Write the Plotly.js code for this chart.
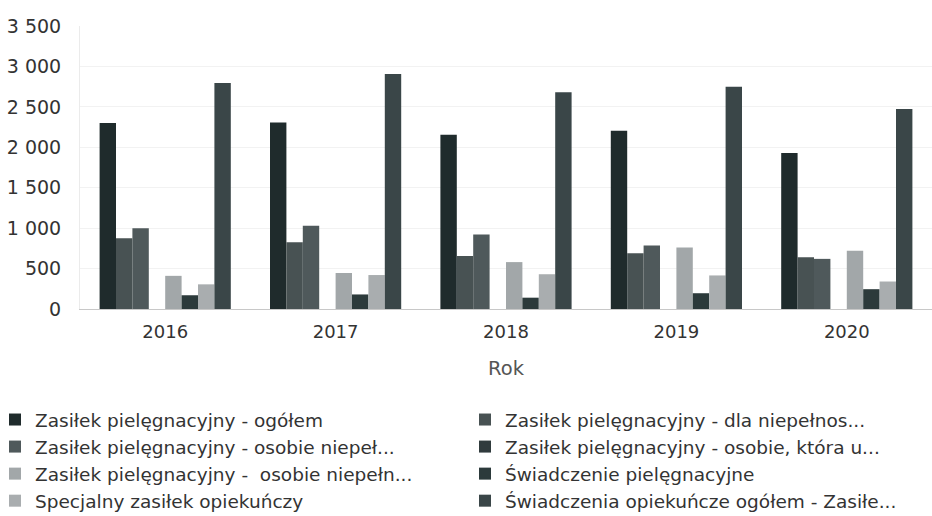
<!DOCTYPE html>
<html>
<head>
<meta charset="utf-8">
<script src="https://cdn.plot.ly/plotly-3.0.1.min.js"></script>
<style>
  html, body { margin: 0; padding: 0; background: #ffffff; }
  #chart { width: 932px; height: 516px; }
</style>
</head>
<body>
<div id="chart"></div>
<script>
// Years on the category axis
const years = ['2016', '2017', '2018', '2019', '2020'];

// Series names, in drawing order
const seriesNames = [
  'Zasiłek pielęgnacyjny - ogółem',
  'Zasiłek pielęgnacyjny - dla niepełnos...',
  'Zasiłek pielęgnacyjny - osobie niepeł...',
  'Zasiłek pielęgnacyjny - osobie, która u...',
  'Zasiłek pielęgnacyjny - \u00a0osobie niepełn...',
  'Świadczenie pielęgnacyjne',
  'Specjalny zasiłek opiekuńczy',
  'Świadczenia opiekuńcze ogółem - Zasiłe...'
];

// Values per series, one per year
const zasilekOgolem        = [2300, 2305, 2155, 2205, 1930];
const dlaNiepelnosprawnego = [ 875,  825,  655,  690,  640];
const osobieNiepelnospr    = [1000, 1030,  920,  785,  620];
const osobieKtora          = [null, null, null, null, null];
const osobieNiepelnoPow75  = [ 410,  445,  580,  760,  720];
const swiadczeniePiel      = [ 170,  180,  140,  195,  245];
const specjalnyZasilek     = [ 305,  420,  430,  415,  340];
const swiadczeniaOgolem    = [2795, 2905, 2680, 2750, 2475];

const seriesValues = [
  zasilekOgolem, dlaNiepelnosprawnego, osobieNiepelnospr, osobieKtora,
  osobieNiepelnoPow75, swiadczeniePiel, specjalnyZasilek, swiadczeniaOgolem
];

// Grey-teal palette of the bars
const seriesColors = [
  '#1f2b2c', '#485253', '#4f595b', '#303b3d',
  '#a2a7a9', '#2c3a3b', '#a9adaf', '#3a4648'
];

// Legend columns: even-indexed series on the left, odd-indexed on the right
const traces = seriesNames.map((name, i) => ({
  type: 'bar',
  name: name,
  x: years,
  y: seriesValues[i],
  legend: i % 2 === 0 ? 'legend' : 'legend2',
  marker: { color: seriesColors[i], line: { width: 0 } },
  hoverinfo: 'x+y+name'
}));

const textFont = '"DejaVu Sans", "Open Sans", sans-serif';
const plotLeft = 80;
const plotWidth = 852;

const legendBase = {
  orientation: 'v',
  xref: 'paper',
  yref: 'container',
  xanchor: 'left',
  y: (516 - 401) / 516,
  yanchor: 'top',
  traceorder: 'normal',
  font: { size: 18.5, color: '#333333', family: textFont },
  bgcolor: 'rgba(0,0,0,0)',
  borderwidth: 0,
  itemclick: false,
  itemdoubleclick: false
};

const layout = {
  width: 932,
  height: 516,
  paper_bgcolor: '#ffffff',
  plot_bgcolor: '#ffffff',
  font: { family: textFont, color: '#333333', size: 16 },
  separators: ', ',
  margin: { l: plotLeft, r: 0, t: 26, b: 207, autoexpand: false },
  barmode: 'group',
  bargap: 0.23,
  bargroupgap: 0,
  showlegend: true,
  xaxis: {
    type: 'category',
    showgrid: false,
    showline: true,
    linecolor: '#c8c8c8',
    linewidth: 1,
    ticks: 'outside',
    ticklen: 6,
    tickcolor: 'rgba(0,0,0,0)',
    tickfont: { size: 18, color: '#333333' },
    tickangle: 0,
    title: { text: 'Rok', font: { size: 19.5, color: '#555555' }, standoff: 20 },
    fixedrange: true
  },
  yaxis: {
    range: [0, 3500],
    tickvals: [0, 500, 1000, 1500, 2000, 2500, 3000, 3500],
    separatethousands: true,
    tickformat: ',d',
    showgrid: true,
    gridcolor: '#f2f2f2',
    gridwidth: 1,
    zeroline: false,
    showline: true,
    linecolor: '#ebebeb',
    ticks: 'outside',
    ticklen: 14,
    tickcolor: 'rgba(0,0,0,0)',
    tickfont: { size: 19, color: '#333333' },
    fixedrange: true
  },
  legend: Object.assign({}, legendBase, { x: (-5 - plotLeft) / plotWidth }),
  legend2: Object.assign({}, legendBase, { x: (465 - plotLeft) / plotWidth })
};

Plotly.newPlot('chart', traces, layout, { displayModeBar: false, staticPlot: true });
</script>
</body>
</html>
